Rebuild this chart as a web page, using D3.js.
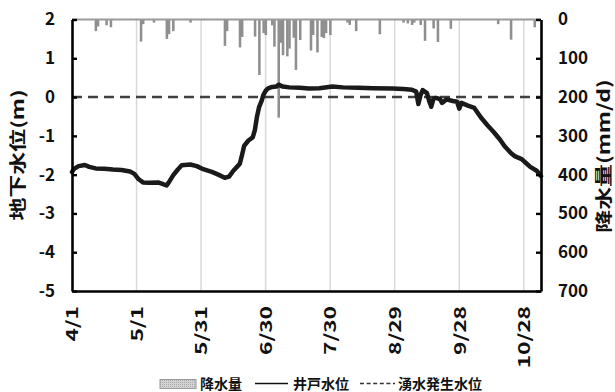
<!DOCTYPE html>
<html>
<head>
<meta charset="utf-8">
<script src="https://cdn.jsdelivr.net/npm/d3@7"></script>
<style>
  body { margin: 0; background: #fff; }
  svg text { font-family: "Noto Sans CJK JP", "Noto Sans", sans-serif; font-weight: 700; fill: #111; }
</style>
</head>
<body>
<svg id="chart" width="615" height="392"></svg>
<script>
'use strict';

const YEAR = 2019;
const START_DATE = '4/1';
const END_DATE = '11/5';

const dateTicks = ['4/1', '5/1', '5/31', '6/30', '7/30', '8/29', '9/28', '10/28'];
const levelTicks = [2, 1, 0, -1, -2, -3, -4, -5];
const rainTicks = [0, 100, 200, 300, 400, 500, 600, 700];
const springLevel = 0;

// daily rainfall (mm/d), only days with rain
const rainfall = [
  ['4/12', 30], ['4/13', 18], ['4/17', 15], ['4/19', 20], ['5/3', 57], ['5/4', 12],
  ['5/9', 8], ['5/15', 50], ['5/16', 38], ['5/18', 30], ['5/26', 8], ['6/11', 68],
  ['6/12', 30], ['6/18', 72], ['6/19', 45], ['6/25', 44], ['6/27', 143], ['6/29', 35],
  ['6/30', 40], ['7/3', 15], ['7/4', 70], ['7/6', 253], ['7/7', 60], ['7/8', 92],
  ['7/10', 95], ['7/11', 75], ['7/13', 47], ['7/14', 130], ['7/16', 53], ['7/21', 80],
  ['7/22', 40], ['7/24', 85], ['7/26', 45], ['7/27', 48], ['7/28', 35], ['7/30', 40],
  ['8/7', 8], ['8/8', 14], ['8/11', 30], ['8/22', 38], ['9/2', 8], ['9/4', 10],
  ['9/6', 14], ['9/7', 8], ['9/10', 14], ['9/12', 55], ['9/16', 23], ['9/18', 58],
  ['9/24', 24], ['10/16', 12], ['10/22', 52], ['11/2', 20]
];

// well water level (m)
const wellLevel = [
  ['4/1', -1.93], ['4/2', -1.85], ['4/4', -1.78], ['4/7', -1.75], ['4/9', -1.8],
  ['4/12', -1.84], ['4/16', -1.85], ['4/20', -1.87], ['4/24', -1.88], ['4/28', -1.92],
  ['4/30', -1.98], ['5/2', -2.12], ['5/4', -2.2], ['5/7', -2.21], ['5/11', -2.2],
  ['5/13', -2.24], ['5/15', -2.28], ['5/16', -2.2], ['5/18', -2.02], ['5/20', -1.88],
  ['5/22', -1.76], ['5/26', -1.74], ['5/29', -1.78], ['6/1', -1.86], ['6/5', -1.93],
  ['6/8', -2.0], ['6/11', -2.08], ['6/13', -2.05], ['6/15', -1.9], ['6/17', -1.78],
  ['6/18', -1.72], ['6/19', -1.5], ['6/20', -1.26], ['6/22', -1.12], ['6/24', -1.04],
  ['6/25', -0.85], ['6/26', -0.5], ['6/27', -0.25], ['6/28', -0.12], ['6/29', 0.06],
  ['6/30', 0.16], ['7/1', 0.22], ['7/3', 0.26], ['7/5', 0.27], ['7/6', 0.32],
  ['7/8', 0.27], ['7/11', 0.25], ['7/16', 0.24], ['7/20', 0.22], ['7/25', 0.23],
  ['7/31', 0.27], ['8/5', 0.25], ['8/12', 0.24], ['8/19', 0.23], ['8/28', 0.22],
  ['9/2', 0.21], ['9/6', 0.19], ['9/8', 0.14], ['9/9', -0.18], ['9/10', 0.05],
  ['9/11', 0.18], ['9/13', 0.1], ['9/14', -0.1], ['9/15', -0.25], ['9/16', -0.05],
  ['9/17', -0.02], ['9/19', -0.05], ['9/20', -0.15], ['9/22', -0.06], ['9/25', -0.1],
  ['9/27', -0.12], ['9/28', -0.3], ['9/29', -0.15], ['10/2', -0.22], ['10/5', -0.28],
  ['10/8', -0.52], ['10/11', -0.72], ['10/14', -0.9], ['10/17', -1.1], ['10/19', -1.26],
  ['10/22', -1.44], ['10/24', -1.53], ['10/27', -1.6], ['10/29', -1.7], ['10/31', -1.8],
  ['11/3', -1.9], ['11/5', -2.04]
];

(function () {
  const parseDay = d3.timeParse('%Y/%m/%d');
  const toDate = (s) => parseDay(`${YEAR}/${s}`);

  const margin = { top: 19.5, right: 74, bottom: 101, left: 72 };
  const width = 615;
  const height = 392;
  const plotBottom = height - margin.bottom;
  const plotRight = width - margin.right;

  const svg = d3.select('#chart');

  const x = d3.scaleTime()
    .domain([toDate(START_DATE), toDate(END_DATE)])
    .range([margin.left, plotRight]);

  const yLevel = d3.scaleLinear().domain([-5, 2]).range([plotBottom, margin.top]);
  const yRain = d3.scaleLinear().domain([0, 700]).range([margin.top, plotBottom]);

  // vertical grid
  svg.append('g')
    .selectAll('line')
    .data(dateTicks.slice(1))
    .join('line')
    .attr('x1', (d) => x(toDate(d)))
    .attr('x2', (d) => x(toDate(d)))
    .attr('y1', margin.top)
    .attr('y2', plotBottom)
    .attr('stroke', '#d9d9d9')
    .attr('stroke-width', 1.5);

  // rainfall bars hanging from the top
  const barW = x(toDate('4/2')) - x(toDate('4/1'));
  svg.append('g')
    .selectAll('rect')
    .data(rainfall)
    .join('rect')
    .attr('x', (d) => x(toDate(d[0])) - barW / 2)
    .attr('y', yRain(0))
    .attr('width', barW + 0.4)
    .attr('height', (d) => yRain(d[1]) - yRain(0))
    .attr('fill', '#8f8f8f');

  svg.append('line')
    .attr('x1', margin.left)
    .attr('x2', plotRight)
    .attr('y1', yRain(0))
    .attr('y2', yRain(0))
    .attr('stroke', '#9a9a9a')
    .attr('stroke-width', 2);

  // spring level
  svg.append('line')
    .attr('x1', margin.left)
    .attr('x2', plotRight)
    .attr('y1', yLevel(springLevel))
    .attr('y2', yLevel(springLevel))
    .attr('stroke', '#404040')
    .attr('stroke-width', 2.6)
    .attr('stroke-dasharray', '10,6');

  const line = d3.line()
    .x((d) => x(toDate(d[0])))
    .y((d) => yLevel(d[1]));

  svg.append('path')
    .datum(wellLevel)
    .attr('d', line)
    .attr('fill', 'none')
    .attr('stroke', '#1a1a1a')
    .attr('stroke-width', 4.5)
    .attr('stroke-linejoin', 'round')
    .attr('stroke-linecap', 'round');

  // axes
  const plainNumber = (d) => String(d);

  const leftAxis = svg.append('g')
    .attr('transform', `translate(${margin.left},0)`)
    .call(d3.axisLeft(yLevel).tickValues(levelTicks).tickFormat(plainNumber)
      .tickSizeInner(-5).tickSizeOuter(0).tickPadding(17));

  const rightAxis = svg.append('g')
    .attr('transform', `translate(${plotRight},0)`)
    .call(d3.axisRight(yRain).tickValues(rainTicks).tickFormat(plainNumber)
      .tickSizeInner(-5).tickSizeOuter(0).tickPadding(17));

  const bottomAxis = svg.append('g')
    .attr('transform', `translate(0,${plotBottom})`)
    .call(d3.axisBottom(x).tickValues(dateTicks.map(toDate)).tickSize(0).tickFormat((d, i) => dateTicks[i]));

  [leftAxis, rightAxis, bottomAxis].forEach((g) => {
    g.select('.domain').attr('stroke', '#000').attr('stroke-width', 2.6);
    g.selectAll('.tick line').attr('stroke', '#000').attr('stroke-width', 2.4);
    g.selectAll('text').attr('font-size', 17).attr('font-family', null).attr('fill', '#111');
  });

  const stretch = 1.42;
  bottomAxis.selectAll('text')
    .attr('font-size', 16)
    .attr('text-anchor', 'end')
    .attr('x', -15 / stretch)
    .attr('y', 0)
    .attr('dy', '0.36em')
    .attr('transform', `rotate(-90) scale(${stretch},1)`);

  // axis titles
  svg.append('text')
    .attr('transform', `translate(18,155) rotate(-90) scale(1.35,1)`)
    .attr('text-anchor', 'middle')
    .attr('dy', '0.36em')
    .attr('font-size', 17)
    .text('地下水位(m)');

  svg.append('text')
    .attr('transform', `translate(604,156) rotate(-90) scale(1.35,1)`)
    .attr('text-anchor', 'middle')
    .attr('dy', '0.36em')
    .attr('font-size', 17)
    .text('降水量(mm/d)');

  // legend
  const defs = svg.append('defs');
  const pat = defs.append('pattern')
    .attr('id', 'rain-fill')
    .attr('width', 2)
    .attr('height', 2)
    .attr('patternUnits', 'userSpaceOnUse');
  pat.append('rect').attr('width', 2).attr('height', 2).attr('fill', '#d4d4d4');
  pat.append('rect').attr('width', 1).attr('height', 1).attr('fill', '#a8a8a8');

  const legend = svg.append('g').attr('font-size', 14);
  legend.append('rect')
    .attr('x', 160).attr('y', 379.5).attr('width', 36).attr('height', 9)
    .attr('fill', 'url(#rain-fill)')
    .attr('stroke', '#999').attr('stroke-width', 1);
  legend.append('text').attr('x', 200).attr('y', 389).attr('font-size', 14).text('降水量');

  legend.append('line')
    .attr('x1', 255).attr('x2', 288).attr('y1', 383.5).attr('y2', 383.5)
    .attr('stroke', '#111').attr('stroke-width', 1.5);
  legend.append('text').attr('x', 293).attr('y', 389).attr('font-size', 14).text('井戸水位');

  legend.append('line')
    .attr('x1', 360).attr('x2', 395).attr('y1', 383.5).attr('y2', 383.5)
    .attr('stroke', '#333').attr('stroke-width', 1.5)
    .attr('stroke-dasharray', '4,2.6');
  legend.append('text').attr('x', 398).attr('y', 389).attr('font-size', 14).text('湧水発生水位');
})();
</script>
</body>
</html>
